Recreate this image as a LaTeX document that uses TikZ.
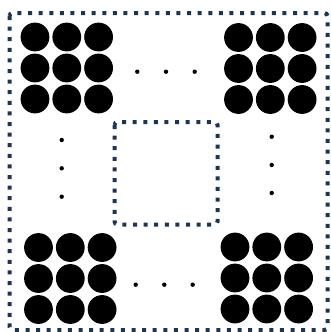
\documentclass[tikz,border=0pt]{standalone}
\usetikzlibrary{calc}
\definecolor{navy}{HTML}{1E3552}
\tikzset{
  dotframe/.style={draw=navy, line width=4pt, dash pattern=on 4pt off 6.6pt, rounded corners=3pt},
  bigdot/.style={fill=black},
  smalldot/.style={fill=black}
}
\begin{document}
\begin{tikzpicture}[x=1pt,y=-1pt]
\useasboundingbox (0,0) rectangle (331,332);
% outer frame
\draw[dotframe] (9.5,13) rectangle (327.5,330);
% inner square
\draw[dotframe] (114.5,122) rectangle (217.5,224.5);
% circle grids
\foreach \ox/\oy in {35/37, 238.5/37.5, 38.5/247.5, 235/247}{
  \foreach \i in {0,1,2}{
    \foreach \j in {0,1,2}{
      \fill[bigdot] (\ox+\i*31.8,\oy+\j*31) circle (14.4);
    }
  }
}
% ellipsis dots
\foreach \x in {137.3,166,194.7} \fill[smalldot] (\x,71.7) circle (2.2);
\foreach \x in {135.7,164.3,192.7} \fill[smalldot] (\x,284.7) circle (2.2);
\foreach \y in {140,168.3,196.7} \fill[smalldot] (61.7,\y) circle (2.2);
\foreach \y in {136.7,165,193} \fill[smalldot] (271.7,\y) circle (2.2);
\end{tikzpicture}
\end{document}
